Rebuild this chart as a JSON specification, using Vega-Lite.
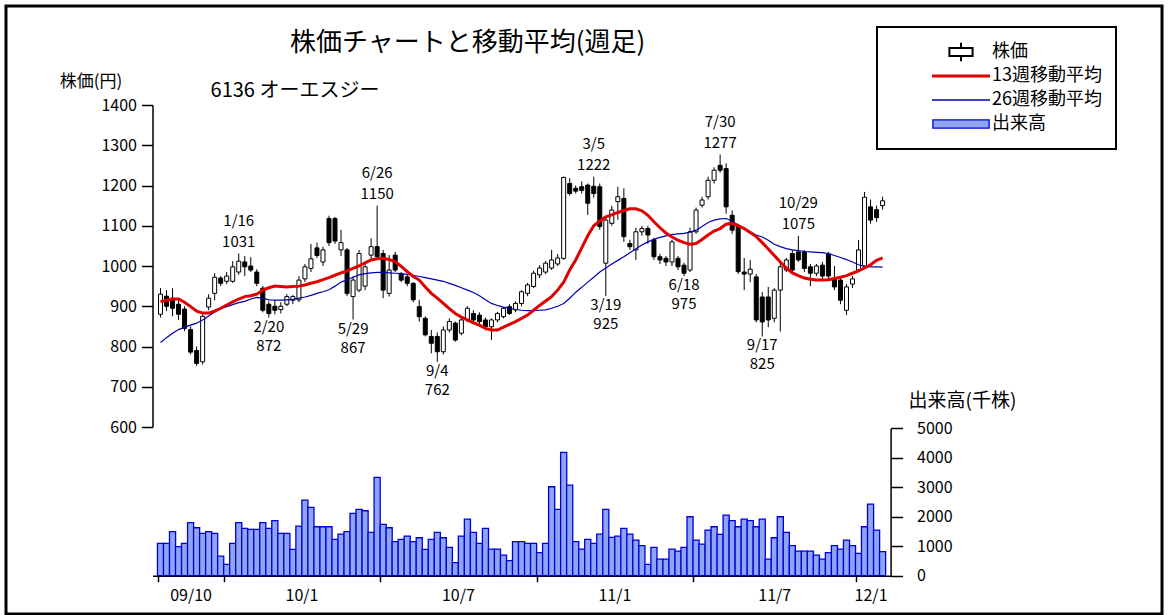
{
"$schema":"https://vega.github.io/schema/vega-lite/v6.json",
"width":1156,"height":608,
"autosize":{"type":"none"},
"padding":{"left":6,"top":6,"right":6,"bottom":1},
"background":"white",
"config":{
 "view":{"stroke":"black","strokeWidth":3},
 "font":"Noto Sans CJK JP",
 "axis":{"domainColor":"black","tickColor":"black","labelColor":"black","titleColor":"black","grid":false,"labelFont":"Noto Sans CJK JP","titleFont":"Noto Sans CJK JP","labelFontSize":16,"titleFontSize":16,"titleFontWeight":"normal","domainWidth":1.5,"tickWidth":1.5},
 "text":{"font":"Noto Sans CJK JP","color":"black"}
},
"title":{"text":"株価チャートと移動平均(週足)","anchor":"start","frame":"group","offset":0,"dx":284,"dy":63,"baseline":"middle","fontSize":26,"fontWeight":"normal","font":"Noto Sans CJK JP","color":"black"},
"datasets":{
"w":[
{"d":"2009-10-17","o":880,"h":945,"l":872,"c":930,"v":1096,"m13":911,"m26":810},
{"d":"2009-10-24","o":925,"h":940,"l":888,"c":900,"v":1096,"m13":915,"m26":822},
{"d":"2009-10-31","o":920,"h":945,"l":875,"c":895,"v":1492,"m13":918,"m26":833},
{"d":"2009-11-07","o":905,"h":915,"l":866,"c":880,"v":983,"m13":918,"m26":842},
{"d":"2009-11-14","o":893,"h":900,"l":838,"c":845,"v":1096,"m13":910,"m26":848},
{"d":"2009-11-21","o":842,"h":850,"l":780,"c":786,"v":1797,"m13":899,"m26":853},
{"d":"2009-11-28","o":790,"h":800,"l":752,"c":758,"v":1627,"m13":888,"m26":858},
{"d":"2009-12-05","o":762,"h":880,"l":755,"c":875,"v":1435,"m13":883,"m26":866},
{"d":"2009-12-12","o":898,"h":930,"l":890,"c":920,"v":1492,"m13":883,"m26":876},
{"d":"2009-12-19","o":932,"h":982,"l":915,"c":972,"v":1435,"m13":888,"m26":886},
{"d":"2009-12-26","o":970,"h":975,"l":950,"c":957,"v":667,"m13":895,"m26":894},
{"d":"2010-01-02","o":962,"h":985,"l":955,"c":975,"v":384,"m13":903,"m26":899},
{"d":"2010-01-09","o":962,"h":1012,"l":958,"c":998,"v":1096,"m13":911,"m26":904},
{"d":"2010-01-16","o":985,"h":1031,"l":978,"c":1012,"v":1797,"m13":918,"m26":909},
{"d":"2010-01-23","o":1010,"h":1025,"l":975,"c":998,"v":1605,"m13":924,"m26":912},
{"d":"2010-01-30","o":1000,"h":1022,"l":985,"c":990,"v":1571,"m13":926,"m26":918},
{"d":"2010-02-06","o":985,"h":992,"l":950,"c":957,"v":1571,"m13":930,"m26":922},
{"d":"2010-02-13","o":945,"h":950,"l":885,"c":890,"v":1797,"m13":940,"m26":920},
{"d":"2010-02-20","o":905,"h":912,"l":872,"c":882,"v":1605,"m13":946,"m26":916},
{"d":"2010-02-27","o":900,"h":915,"l":880,"c":890,"v":1865,"m13":950,"m26":915},
{"d":"2010-03-06","o":892,"h":910,"l":882,"c":900,"v":1435,"m13":949,"m26":915},
{"d":"2010-03-13","o":905,"h":930,"l":900,"c":924,"v":1435,"m13":948,"m26":916},
{"d":"2010-03-20","o":915,"h":928,"l":905,"c":924,"v":893,"m13":949,"m26":917},
{"d":"2010-03-27","o":916,"h":975,"l":910,"c":965,"v":1684,"m13":950,"m26":920},
{"d":"2010-04-03","o":968,"h":1005,"l":960,"c":998,"v":2565,"m13":953,"m26":923},
{"d":"2010-04-10","o":994,"h":1055,"l":985,"c":1018,"v":2317,"m13":957,"m26":927},
{"d":"2010-04-17","o":1045,"h":1058,"l":1020,"c":1026,"v":1661,"m13":961,"m26":932},
{"d":"2010-04-24","o":1010,"h":1048,"l":1000,"c":1040,"v":1661,"m13":966,"m26":936},
{"d":"2010-05-01","o":1118,"h":1125,"l":1050,"c":1058,"v":1661,"m13":971,"m26":941},
{"d":"2010-05-08","o":1118,"h":1122,"l":1055,"c":1062,"v":1232,"m13":977,"m26":950},
{"d":"2010-05-15","o":1040,"h":1090,"l":1025,"c":1058,"v":1413,"m13":983,"m26":960},
{"d":"2010-05-22","o":1040,"h":1045,"l":925,"c":932,"v":1492,"m13":988,"m26":966},
{"d":"2010-05-29","o":924,"h":975,"l":867,"c":965,"v":2113,"m13":994,"m26":972},
{"d":"2010-06-05","o":940,"h":1040,"l":935,"c":1031,"v":2249,"m13":1000,"m26":978},
{"d":"2010-06-12","o":950,"h":1007,"l":940,"c":998,"v":2204,"m13":1008,"m26":981},
{"d":"2010-06-19","o":1027,"h":1069,"l":1015,"c":1048,"v":1469,"m13":1015,"m26":983},
{"d":"2010-06-26","o":1048,"h":1150,"l":1015,"c":1023,"v":3334,"m13":1018,"m26":984},
{"d":"2010-07-03","o":1031,"h":1040,"l":920,"c":940,"v":1740,"m13":1019,"m26":984},
{"d":"2010-07-10","o":932,"h":1027,"l":924,"c":990,"v":1627,"m13":1016,"m26":983},
{"d":"2010-07-17","o":1027,"h":1035,"l":985,"c":990,"v":1153,"m13":1011,"m26":982},
{"d":"2010-07-24","o":980,"h":985,"l":960,"c":965,"v":1232,"m13":999,"m26":981},
{"d":"2010-07-31","o":973,"h":978,"l":950,"c":957,"v":1345,"m13":986,"m26":979},
{"d":"2010-08-07","o":957,"h":960,"l":910,"c":916,"v":1153,"m13":974,"m26":977},
{"d":"2010-08-14","o":899,"h":916,"l":862,"c":874,"v":1288,"m13":965,"m26":974},
{"d":"2010-08-21","o":870,"h":875,"l":825,"c":829,"v":893,"m13":948,"m26":971},
{"d":"2010-08-28","o":825,"h":841,"l":783,"c":808,"v":1232,"m13":932,"m26":968},
{"d":"2010-09-04","o":825,"h":835,"l":762,"c":787,"v":1469,"m13":920,"m26":965},
{"d":"2010-09-11","o":787,"h":850,"l":780,"c":841,"v":1288,"m13":907,"m26":962},
{"d":"2010-09-18","o":841,"h":870,"l":835,"c":862,"v":961,"m13":894,"m26":957},
{"d":"2010-09-25","o":858,"h":862,"l":812,"c":816,"v":441,"m13":882,"m26":952},
{"d":"2010-10-02","o":833,"h":870,"l":828,"c":866,"v":1345,"m13":873,"m26":946},
{"d":"2010-10-09","o":866,"h":900,"l":860,"c":895,"v":1921,"m13":866,"m26":940},
{"d":"2010-10-16","o":882,"h":890,"l":860,"c":866,"v":1469,"m13":859,"m26":934},
{"d":"2010-10-23","o":878,"h":885,"l":855,"c":862,"v":1096,"m13":853,"m26":926},
{"d":"2010-10-30","o":866,"h":872,"l":840,"c":849,"v":1605,"m13":845,"m26":916},
{"d":"2010-11-06","o":849,"h":870,"l":816,"c":866,"v":904,"m13":841,"m26":907},
{"d":"2010-11-13","o":866,"h":886,"l":860,"c":882,"v":904,"m13":841,"m26":902},
{"d":"2010-11-20","o":874,"h":898,"l":870,"c":895,"v":701,"m13":848,"m26":898},
{"d":"2010-11-27","o":899,"h":905,"l":878,"c":882,"v":509,"m13":855,"m26":895},
{"d":"2010-12-04","o":891,"h":912,"l":885,"c":907,"v":1153,"m13":862,"m26":892},
{"d":"2010-12-11","o":907,"h":940,"l":900,"c":936,"v":1153,"m13":870,"m26":890},
{"d":"2010-12-18","o":932,"h":958,"l":925,"c":953,"v":1096,"m13":878,"m26":889},
{"d":"2010-12-25","o":949,"h":988,"l":945,"c":982,"v":1096,"m13":890,"m26":889},
{"d":"2011-01-01","o":978,"h":1002,"l":970,"c":995,"v":780,"m13":902,"m26":890},
{"d":"2011-01-08","o":985,"h":1012,"l":980,"c":1007,"v":1096,"m13":913,"m26":891},
{"d":"2011-01-15","o":995,"h":1040,"l":990,"c":1015,"v":3017,"m13":924,"m26":895},
{"d":"2011-01-22","o":1005,"h":1030,"l":1000,"c":1020,"v":2249,"m13":940,"m26":900},
{"d":"2011-01-29","o":1019,"h":1222,"l":1015,"c":1220,"v":4181,"m13":960,"m26":907},
{"d":"2011-02-05","o":1205,"h":1218,"l":1175,"c":1180,"v":3074,"m13":990,"m26":920},
{"d":"2011-02-12","o":1193,"h":1200,"l":1180,"c":1186,"v":1153,"m13":1015,"m26":935},
{"d":"2011-02-19","o":1197,"h":1210,"l":1180,"c":1188,"v":904,"m13":1045,"m26":947},
{"d":"2011-02-26","o":1201,"h":1205,"l":1127,"c":1156,"v":1232,"m13":1075,"m26":960},
{"d":"2011-03-05","o":1198,"h":1222,"l":1170,"c":1180,"v":1096,"m13":1100,"m26":972},
{"d":"2011-03-12","o":1197,"h":1205,"l":1090,"c":1098,"v":1413,"m13":1112,"m26":985},
{"d":"2011-03-19","o":1007,"h":1120,"l":925,"c":1114,"v":2249,"m13":1122,"m26":995},
{"d":"2011-03-26","o":1106,"h":1150,"l":1100,"c":1139,"v":1300,"m13":1127,"m26":1005},
{"d":"2011-04-02","o":1160,"h":1197,"l":1115,"c":1172,"v":1345,"m13":1133,"m26":1014},
{"d":"2011-04-09","o":1168,"h":1193,"l":1060,"c":1073,"v":1605,"m13":1138,"m26":1023},
{"d":"2011-04-16","o":1056,"h":1065,"l":1040,"c":1048,"v":1413,"m13":1142,"m26":1033},
{"d":"2011-04-23","o":1040,"h":1095,"l":1015,"c":1085,"v":1209,"m13":1142,"m26":1043},
{"d":"2011-04-30","o":1085,"h":1100,"l":1075,"c":1093,"v":1017,"m13":1137,"m26":1052},
{"d":"2011-05-07","o":1093,"h":1100,"l":1055,"c":1077,"v":384,"m13":1126,"m26":1060},
{"d":"2011-05-14","o":1065,"h":1070,"l":1015,"c":1023,"v":961,"m13":1110,"m26":1066},
{"d":"2011-05-21","o":1023,"h":1030,"l":1005,"c":1015,"v":565,"m13":1095,"m26":1071},
{"d":"2011-05-28","o":1019,"h":1025,"l":1000,"c":1010,"v":565,"m13":1082,"m26":1075},
{"d":"2011-06-04","o":1010,"h":1065,"l":1000,"c":1060,"v":904,"m13":1072,"m26":1078},
{"d":"2011-06-11","o":1019,"h":1025,"l":990,"c":998,"v":836,"m13":1064,"m26":1080},
{"d":"2011-06-18","o":1002,"h":1008,"l":975,"c":982,"v":961,"m13":1058,"m26":1081},
{"d":"2011-06-25","o":990,"h":1095,"l":985,"c":1085,"v":2000,"m13":1054,"m26":1084},
{"d":"2011-07-02","o":1085,"h":1145,"l":1080,"c":1139,"v":1209,"m13":1056,"m26":1089},
{"d":"2011-07-09","o":1151,"h":1172,"l":1145,"c":1164,"v":1074,"m13":1066,"m26":1098},
{"d":"2011-07-16","o":1172,"h":1222,"l":1165,"c":1213,"v":1548,"m13":1077,"m26":1108},
{"d":"2011-07-23","o":1213,"h":1245,"l":1205,"c":1238,"v":1661,"m13":1087,"m26":1114},
{"d":"2011-07-30","o":1250,"h":1277,"l":1232,"c":1238,"v":1401,"m13":1093,"m26":1117},
{"d":"2011-08-06","o":1242,"h":1255,"l":1130,"c":1147,"v":2057,"m13":1104,"m26":1118},
{"d":"2011-08-13","o":1126,"h":1138,"l":1080,"c":1089,"v":1865,"m13":1106,"m26":1112},
{"d":"2011-08-20","o":1101,"h":1105,"l":980,"c":986,"v":1661,"m13":1100,"m26":1101},
{"d":"2011-08-27","o":985,"h":1020,"l":940,"c":980,"v":1921,"m13":1093,"m26":1093},
{"d":"2011-09-03","o":980,"h":1015,"l":960,"c":992,"v":1865,"m13":1083,"m26":1085},
{"d":"2011-09-10","o":973,"h":980,"l":860,"c":866,"v":1661,"m13":1073,"m26":1077},
{"d":"2011-09-17","o":923,"h":935,"l":825,"c":861,"v":1921,"m13":1058,"m26":1072},
{"d":"2011-09-24","o":923,"h":948,"l":848,"c":866,"v":565,"m13":1042,"m26":1064},
{"d":"2011-10-01","o":870,"h":945,"l":860,"c":940,"v":1288,"m13":1026,"m26":1054},
{"d":"2011-10-08","o":940,"h":1010,"l":837,"c":998,"v":2000,"m13":1010,"m26":1048},
{"d":"2011-10-15","o":990,"h":1020,"l":985,"c":1015,"v":1469,"m13":995,"m26":1043},
{"d":"2011-10-22","o":1031,"h":1040,"l":985,"c":990,"v":1017,"m13":983,"m26":1040},
{"d":"2011-10-29","o":1035,"h":1075,"l":1010,"c":1015,"v":836,"m13":976,"m26":1038},
{"d":"2011-11-05","o":1035,"h":1040,"l":985,"c":994,"v":836,"m13":970,"m26":1036},
{"d":"2011-11-12","o":998,"h":1005,"l":950,"c":982,"v":836,"m13":967,"m26":1035},
{"d":"2011-11-19","o":982,"h":1005,"l":975,"c":1000,"v":701,"m13":965,"m26":1034},
{"d":"2011-11-26","o":1002,"h":1010,"l":968,"c":975,"v":565,"m13":965,"m26":1033},
{"d":"2011-12-03","o":1030,"h":1035,"l":968,"c":975,"v":780,"m13":966,"m26":1031},
{"d":"2011-12-10","o":968,"h":1000,"l":940,"c":948,"v":1017,"m13":969,"m26":1026},
{"d":"2011-12-17","o":965,"h":970,"l":905,"c":915,"v":904,"m13":972,"m26":1021},
{"d":"2011-12-24","o":890,"h":955,"l":878,"c":948,"v":1209,"m13":976,"m26":1016},
{"d":"2011-12-31","o":955,"h":975,"l":945,"c":968,"v":1017,"m13":982,"m26":1010},
{"d":"2012-01-07","o":990,"h":1065,"l":985,"c":1040,"v":757,"m13":988,"m26":1003},
{"d":"2012-01-14","o":1000,"h":1184,"l":995,"c":1171,"v":1661,"m13":995,"m26":999},
{"d":"2012-01-21","o":1147,"h":1165,"l":1105,"c":1114,"v":2430,"m13":1003,"m26":998},
{"d":"2012-01-28","o":1140,"h":1150,"l":1110,"c":1120,"v":1548,"m13":1014,"m26":998},
{"d":"2012-02-04","o":1150,"h":1172,"l":1140,"c":1162,"v":814,"m13":1020,"m26":997}
],
"ann":[
{"d":"2010-01-16","p":1031,"t":"1/16","k":"hi"},
{"d":"2010-06-26","p":1150,"t":"6/26","k":"hi"},
{"d":"2011-03-05","p":1222,"t":"3/5","k":"hi"},
{"d":"2011-07-30","p":1277,"t":"7/30","k":"hi"},
{"d":"2011-10-29","p":1075,"t":"10/29","k":"hi"},
{"d":"2010-02-20","p":872,"t":"2/20","k":"lo"},
{"d":"2010-05-29","p":867,"t":"5/29","k":"lo"},
{"d":"2010-09-04","p":762,"t":"9/4","k":"lo"},
{"d":"2011-03-19","p":925,"t":"3/19","k":"lo"},
{"d":"2011-06-18","p":975,"t":"6/18","k":"lo"},
{"d":"2011-09-17","p":825,"t":"9/17","k":"lo"}
]
},
"encoding":{
 "x":{"field":"d","type":"temporal",
  "scale":{"type":"utc","domain":[{"year":2009,"month":10,"date":13,"hours":12,"utc":true},{"year":2012,"month":2,"date":7,"hours":12,"utc":true}],"range":[146.5,884.6]},
  "axis":{
   "values":[
    {"year":2009,"month":10,"date":13,"hours":12,"utc":true},
    {"year":2009,"month":12,"date":29,"hours":12,"utc":true},
    {"year":2010,"month":6,"date":29,"hours":12,"utc":true},
    {"year":2010,"month":12,"date":28,"hours":12,"utc":true},
    {"year":2011,"month":6,"date":28,"hours":12,"utc":true},
    {"year":2012,"month":1,"date":3,"hours":12,"utc":true},
    {"year":2009,"month":11,"date":21,"hours":0,"utc":true},
    {"year":2010,"month":3,"date":30,"hours":0,"utc":true},
    {"year":2010,"month":9,"date":28,"hours":0,"utc":true},
    {"year":2011,"month":3,"date":29,"hours":0,"utc":true},
    {"year":2011,"month":10,"date":1,"hours":0,"utc":true},
    {"year":2012,"month":1,"date":21,"hours":0,"utc":true}
   ],
   "labelExpr":"utchours(datum.value) == 12 ? '' : (utcyear(datum.value) == 2009 ? '09/10' : utcFormat(datum.value, '%y') + (utcmonth(datum.value) < 6 ? '/1' : '/7'))",
   "tickSize":6,
   "tickOpacity":{"condition":{"test":"utchours(datum.value) == 12","value":1},"value":0},
   "labelPadding":6,"labelOverlap":false,"labelFlush":false,"labelFontSize":16,
   "offset":-38.3,
   "title":"6136 オーエスジー","titleX":288.5,"titleY":-485.7,"titleAlign":"center","titleBaseline":"middle","titleFontSize":20,"titleAngle":0
  }
 }
},
"layer":[
 {"data":{"name":"w"},
  "mark":{"type":"bar","size":6.1,"fill":"#8fa4f2","stroke":"#0000dd","strokeWidth":1.3},
  "encoding":{"y":{"field":"v","type":"quantitative","scale":{"domain":[0,5000],"range":[569.7,422.3]},
   "axis":{"orient":"right","values":[0,1000,2000,3000,4000,5000],"format":"d","tickSize":12,"labelPadding":14,"labelFontSize":16,"offset":-271.4,
    "title":"出来高(千株)","titleAngle":0,"titleX":71.4,"titleY":394,"titleAlign":"center","titleBaseline":"middle","titleFontSize":19}}}
 },
 {"data":{"name":"w"},
  "mark":{"type":"rule","color":"black","strokeWidth":1},
  "encoding":{"y":{"field":"l","type":"quantitative","scale":{"domain":[600,1400],"range":[421,99]},
    "axis":{"orient":"left","values":[600,700,800,900,1000,1100,1200,1300,1400],"format":"d","tickSize":11,"labelPadding":5,"labelFontSize":16,"offset":-146.5,
     "title":"株価(円)","titleAngle":0,"titleX":-62,"titleY":75,"titleAlign":"center","titleBaseline":"middle","titleFontSize":17}},
   "y2":{"field":"h"}}},
 {"data":{"name":"w"},
  "mark":{"type":"bar","size":4,"stroke":"black","strokeWidth":1},
  "encoding":{"y":{"field":"o","type":"quantitative","scale":{"domain":[600,1400],"range":[421,99]},"axis":null},
   "y2":{"field":"c"},
   "fill":{"condition":{"test":"datum.c >= datum.o","value":"white"},"value":"black"}}},
 {"data":{"name":"w"},
  "mark":{"type":"line","strokeWidth":1.2},
  "encoding":{"y":{"field":"m26","type":"quantitative","scale":{"domain":[600,1400],"range":[421,99]},"axis":null},
   "color":{"datum":"ma26","type":"nominal","scale":{"domain":["p","ma13","ma26","vol"],"range":["black","#e00000","#0000b0","#0000cc"]},
    "legend":{"title":null,"orient":"none","legendX":871,"legendY":21,"strokeColor":"black","padding":14,"fillColor":"white",
     "symbolSize":3364,"symbolOffset":61,"labelOffset":22,"clipHeight":22,"rowPadding":2,
     "labelFontSize":18,"labelFont":"Noto Sans CJK JP","labelColor":"black","labelLimit":300,
     "labelExpr":"datum.value == 'p' ? '株価' : datum.value == 'ma13' ? '13週移動平均' : datum.value == 'ma26' ? '26週移動平均' : '出来高'",
     "encode":{
      "legend":{"update":{"strokeWidth":{"value":2}}},
      "symbols":{"update":{
       "shape":{"signal":"datum.value == 'p' ? 'M-0.4,-0.14H0.4V0.14H-0.4Z M0,-0.32V-0.14 M0,0.14V0.32' : datum.value == 'vol' ? 'M-0.97,-0.14H0.97V0.14H-0.97Z' : 'M-1,0H1'"},
       "stroke":{"signal":"datum.value == 'p' ? 'black' : datum.value == 'ma13' ? '#e00000' : datum.value == 'ma26' ? '#0000b0' : '#0000dd'"},
       "fill":{"signal":"datum.value == 'vol' ? '#8fa4f2' : 'transparent'"},
       "strokeWidth":{"signal":"datum.value == 'ma13' ? 3 : datum.value == 'p' ? 2 : 1.3"},
       "opacity":{"value":1}
     }}}}}}},
 {"data":{"name":"w"},
  "mark":{"type":"line","strokeWidth":3},
  "encoding":{"y":{"field":"m13","type":"quantitative","scale":{"domain":[600,1400],"range":[421,99]},"axis":null},
   "color":{"datum":"ma13","type":"nominal"}}},
 {"data":{"name":"ann"},"transform":[{"filter":"datum.k == 'hi'"}],
  "mark":{"type":"text","baseline":"middle","dy":-12,"fontSize":15},
  "encoding":{"y":{"field":"p","type":"quantitative","scale":{"domain":[600,1400],"range":[421,99]},"axis":null},"text":{"field":"p","type":"nominal"}}},
 {"data":{"name":"ann"},"transform":[{"filter":"datum.k == 'hi'"}],
  "mark":{"type":"text","baseline":"middle","dy":-33,"fontSize":15},
  "encoding":{"y":{"field":"p","type":"quantitative","scale":{"domain":[600,1400],"range":[421,99]},"axis":null},"text":{"field":"t","type":"nominal"}}},
 {"data":{"name":"ann"},"transform":[{"filter":"datum.k == 'lo'"}],
  "mark":{"type":"text","baseline":"middle","dy":9,"fontSize":15},
  "encoding":{"y":{"field":"p","type":"quantitative","scale":{"domain":[600,1400],"range":[421,99]},"axis":null},"text":{"field":"t","type":"nominal"}}},
 {"data":{"name":"ann"},"transform":[{"filter":"datum.k == 'lo'"}],
  "mark":{"type":"text","baseline":"middle","dy":28,"fontSize":15},
  "encoding":{"y":{"field":"p","type":"quantitative","scale":{"domain":[600,1400],"range":[421,99]},"axis":null},"text":{"field":"p","type":"nominal"}}}
],
"resolve":{"scale":{"y":"independent"},"axis":{"y":"independent"}}
}
